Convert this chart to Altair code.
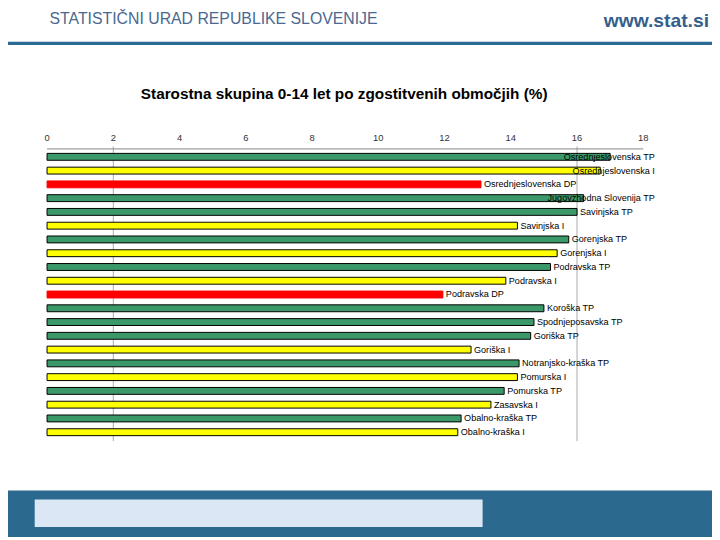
import altair as alt
import pandas as pd

regions = [
    "Osrednjeslovenska TP", "Osrednjeslovenska I", "Osrednjeslovenska DP",
    "Jugovzhodna Slovenija TP", "Savinjska TP", "Savinjska I",
    "Gorenjska TP", "Gorenjska I", "Podravska TP", "Podravska I",
    "Podravska DP", "Koroška TP", "Spodnjeposavska TP", "Goriška TP",
    "Goriška I", "Notranjsko-kraška TP", "Pomurska I", "Pomurska TP",
    "Zasavska I", "Obalno-kraška TP", "Obalno-kraška I",
]
values = [
    17.0, 16.7, 13.1, 16.2, 16.0, 14.2, 15.75, 15.4, 15.2, 13.85,
    11.95, 15.0, 14.7, 14.6, 12.8, 14.25, 14.2, 13.8, 13.4, 12.5, 12.4,
]
kinds = [r.split()[-1] for r in regions]
ticks = [0, 2, 4, 6, 8, 10, 12, 14, 16, 18]
grid_values = [2, 16]

df = pd.DataFrame({"region": regions, "value": values, "kind": kinds,
                   "idx": list(range(len(regions)))})
df_ticks = pd.DataFrame({"t": ticks})
df_grid = pd.DataFrame({"g": grid_values})
df_axis = pd.DataFrame({"a0": [ticks[0]], "a1": [ticks[-1]]})

FONT = "Liberation Sans"
W, H = 712, 532

xscale = alt.Scale(domain=[0, 18], range=[39.5, 642.5])
yscale = alt.Scale(domain=[0, len(regions) - 1], range=[147.5, 426.0])

dummy = alt.Data(values=[{"k": 1}])

header_line = alt.Chart(dummy).mark_rect(color="#2a6a93").encode(
    x=alt.value(0), x2=alt.value(W), y=alt.value(31), y2=alt.value(34.5))
header_text = alt.Chart(dummy).mark_text(
    text="STATISTIČNI URAD REPUBLIKE SLOVENIJE", align="left", baseline="alphabetic",
    font=FONT, fontSize=16, color="#4a6990"
).encode(x=alt.value(42), y=alt.value(13))
header_url = alt.Chart(dummy).mark_text(
    text="www.stat.si", align="right", baseline="alphabetic",
    font=FONT, fontSize=19.5, fontWeight="bold", color="#34608a"
).encode(x=alt.value(709), y=alt.value(16))

footer = alt.Chart(dummy).mark_rect(color="#2b6a8e").encode(
    x=alt.value(0), x2=alt.value(W), y=alt.value(485), y2=alt.value(H))
footer_box = alt.Chart(dummy).mark_rect(color="#dce7f5").encode(
    x=alt.value(27), x2=alt.value(480), y=alt.value(494), y2=alt.value(522))

title = alt.Chart(dummy).mark_text(
    text="Starostna skupina 0-14 let po zgostitvenih območjih (%)", align="center",
    baseline="middle", font=FONT, fontSize=15.5, fontWeight="bold", color="#000000"
).encode(x=alt.value(340), y=alt.value(84))

grid = alt.Chart(df_grid).mark_rule(color="#aaaaaa", strokeWidth=1).encode(
    x=alt.X("g:Q", scale=xscale, axis=None), y=alt.value(137), y2=alt.value(435))
axis_line = alt.Chart(df_axis).mark_rule(color="#888888", strokeWidth=1).encode(
    x=alt.X("a0:Q", scale=xscale, axis=None), x2="a1:Q", y=alt.value(139.5))
tick_labels = alt.Chart(df_ticks).mark_text(
    font=FONT, fontSize=9.5, color="#333333", baseline="middle", align="center"
).encode(x=alt.X("t:Q", scale=xscale, axis=None), y=alt.value(128), text="t:Q")

bars = alt.Chart(df).transform_calculate(
    x0="0", y0="datum.idx - 0.25", y1="datum.idx + 0.25"
).mark_rect(strokeWidth=1).encode(
    x=alt.X("x0:Q", scale=xscale, axis=None),
    x2="value:Q",
    y=alt.Y("y0:Q", scale=yscale, axis=None),
    y2="y1:Q",
    color=alt.Color("kind:N", scale=alt.Scale(domain=["TP", "I", "DP"],
                    range=["#3b9868", "#ffff00", "#ff0000"]), legend=None),
    stroke=alt.Stroke("kind:N", scale=alt.Scale(domain=["TP", "I", "DP"],
                      range=["#000000", "#000000", "#ff0000"]), legend=None),
)

labels_left = alt.Chart(df).transform_filter("datum.value < 16.1").mark_text(
    align="left", baseline="middle", dx=3, font=FONT, fontSize=9.2, color="#000000"
).encode(
    x=alt.X("value:Q", scale=xscale, axis=None),
    y=alt.Y("idx:Q", scale=yscale, axis=None),
    text="region:N",
)
labels_right = alt.Chart(df).transform_filter("datum.value >= 16.1").transform_calculate(
    lx="18.35"
).mark_text(
    align="right", baseline="middle", font=FONT, fontSize=9.2, color="#000000"
).encode(
    x=alt.X("lx:Q", scale=xscale, axis=None),
    y=alt.Y("idx:Q", scale=yscale, axis=None),
    text="region:N",
)

chart = alt.layer(
    header_line, header_text, header_url, footer, footer_box, title,
    grid, axis_line, tick_labels, bars, labels_left, labels_right
).properties(
    width=W, height=H, padding=0,
    autosize=alt.AutoSizeParams(type="none"),
).configure_view(stroke=None)

chart.save("out.html", embed_options={"renderer": "svg", "actions": False})
